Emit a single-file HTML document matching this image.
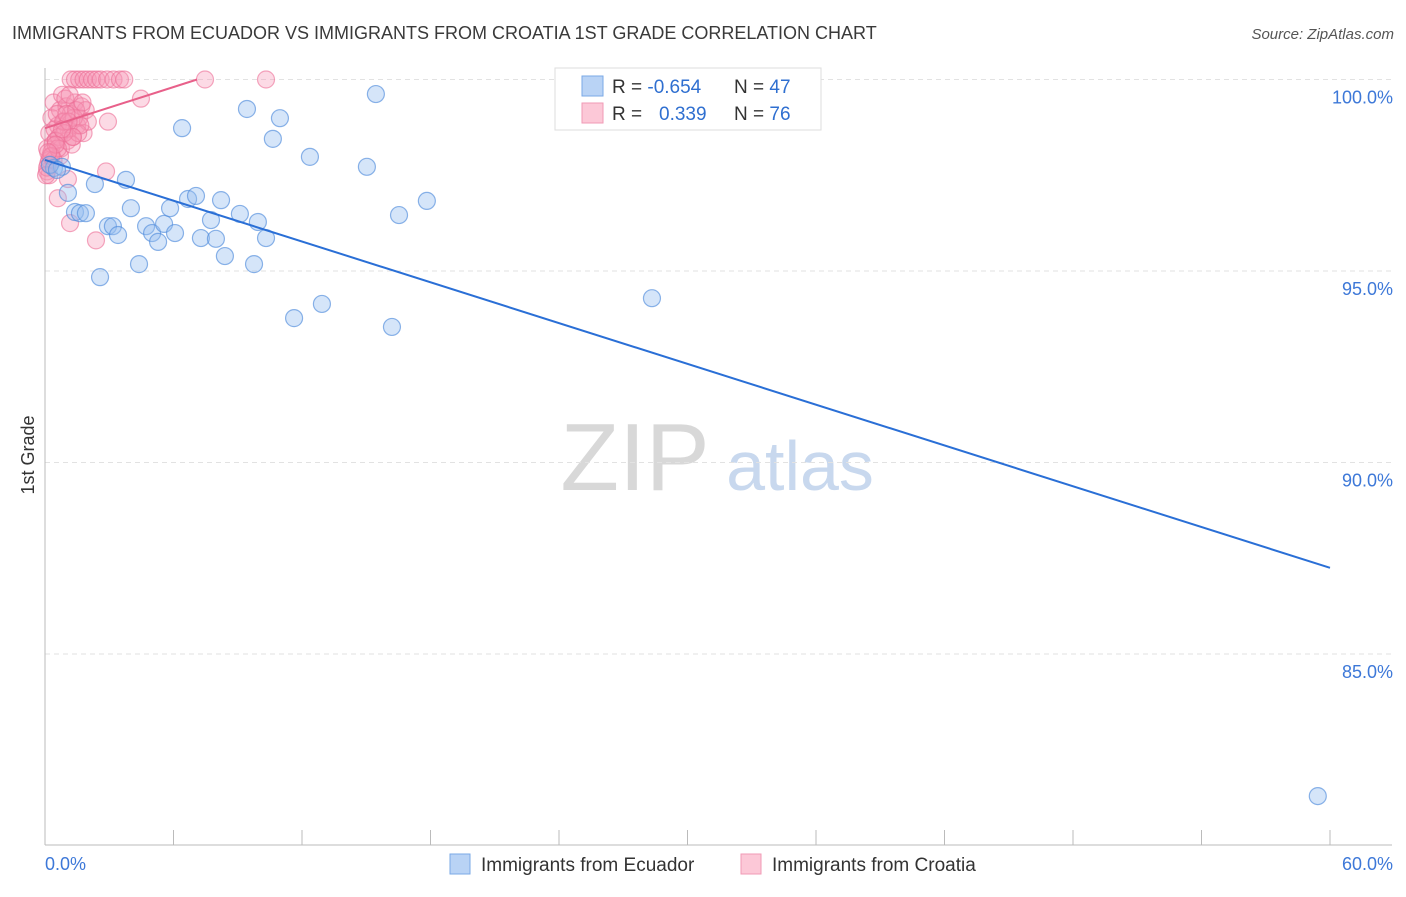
<!DOCTYPE html>
<html><head><meta charset="utf-8"><style>
body{margin:0;background:#fff;font-family:"Liberation Sans",sans-serif}
svg text{font-family:"Liberation Sans",sans-serif}
</style></head><body>
<svg id="chart" width="1406" height="892" viewBox="0 0 1406 892" xmlns="http://www.w3.org/2000/svg">
<text x="12" y="39" font-size="18" fill="#3a3a3a">IMMIGRANTS FROM ECUADOR VS IMMIGRANTS FROM CROATIA 1ST GRADE CORRELATION CHART</text>
<text x="1394" y="39" font-size="15" fill="#555" text-anchor="end" font-style="italic">Source: ZipAtlas.com</text>
<g>
<text x="635" y="490" font-size="96" fill="#d8d8d8" text-anchor="middle" font-family="Liberation Serif">ZIP</text>
<text x="800" y="490" font-size="70" fill="#c8d8ee" text-anchor="middle">atlas</text>
</g>
<g id="grid"></g>
<g id="axes"></g>
<text transform="translate(34,455) rotate(-90)" font-size="18" fill="#333" text-anchor="middle">1st Grade</text>
<g id="marks"></g>
<g>
<rect x="555" y="68" width="266" height="62" fill="#fff" stroke="#ddd"/>
<rect x="582" y="76" width="21" height="20" fill="#b9d3f5" stroke="#7aa8e6"/>
<rect x="582" y="103" width="21" height="20" fill="#fcc8d7" stroke="#f09ab5"/>
<text x="612" y="93" font-size="19" fill="#333">R = <tspan fill="#2f6fd0">-0.654</tspan></text>
<text x="734" y="93" font-size="19" fill="#333">N = <tspan fill="#2f6fd0">47</tspan></text>
<text x="612" y="120" font-size="19" fill="#333">R = <tspan fill="#2f6fd0" x="659">0.339</tspan></text>
<text x="734" y="120" font-size="19" fill="#333">N = <tspan fill="#2f6fd0">76</tspan></text>
</g>
<g>
<rect x="450" y="854" width="20" height="20" fill="#b9d3f5" stroke="#7aa8e6"/>
<text x="481" y="871" font-size="19" fill="#333">Immigrants from Ecuador</text>
<rect x="741" y="854" width="20" height="20" fill="#fcc8d7" stroke="#f09ab5"/>
<text x="772" y="871" font-size="19" fill="#333">Immigrants from Croatia</text>
</g>
</svg>
<script>
const yTicks=[100,95,90,85];
const yTickLabels=["100.0%","95.0%","90.0%","85.0%"];
const xLabels=["0.0%","60.0%"];
const xTickVals=[0,6,12,18,24,30,36,42,48,54,60];
const ecuadorX=[0.42,0.79,1.07,1.40,1.63,1.91,2.33,2.57,2.94,3.17,3.41,3.78,4.01,4.39,4.72,5.00,5.28,5.56,5.84,6.07,6.40,6.68,7.05,7.28,7.75,7.98,8.22,8.40,9.10,9.43,9.76,9.94,10.32,10.64,10.97,11.63,12.37,12.93,15.03,15.45,16.20,16.53,17.83,28.34,59.43,0.23,0.56];
const ecuadorY=[97.69,97.72,97.04,96.54,96.51,96.51,97.27,94.84,96.17,96.17,95.94,97.38,96.64,95.18,96.17,95.99,95.76,96.23,96.64,95.99,98.73,96.88,96.96,95.86,96.33,95.84,96.85,95.39,96.49,99.23,95.18,96.28,95.86,98.45,98.99,93.77,97.98,94.14,97.72,99.62,93.54,96.46,96.83,94.29,81.29,97.77,97.64];
const croatiaX=[7.47,10.32,4.48,2.94,2.85,2.38,1.17,0.6,1.07,1.2,1.4,1.6,1.8,2.0,2.2,2.4,2.6,2.9,3.2,3.5,3.7,0.1,0.2,0.3,0.4,0.5,0.6,0.7,0.8,0.9,1.0,1.1,1.2,1.3,1.4,1.5,1.6,1.7,1.8,1.9,2.0,0.15,0.25,0.35,0.45,0.55,0.65,0.75,0.85,0.95,1.05,1.15,1.25,1.35,1.45,1.55,1.65,1.75,0.1,0.2,0.3,0.5,0.7,0.9,1.1,1.3,0.2,0.4,0.6,0.8,1.0,0.1,0.3,0.5,0.05,0.15];
const croatiaY=[100,100,99.5,98.9,97.6,95.8,96.25,96.9,97.4,100,100,100,100,100,100,100,100,100,100,100,100,98.2,98.6,99.0,99.4,98.4,98.8,99.2,99.6,98.9,99.3,98.7,99.1,98.5,99.4,98.8,99.0,99.3,98.6,99.2,98.9,97.8,98.0,98.3,98.7,99.1,98.5,98.2,98.9,99.5,98.4,99.6,98.3,99.0,99.2,98.6,98.8,99.4,97.6,97.9,98.1,98.4,98.0,98.6,98.9,98.5,97.5,97.9,98.2,98.7,99.1,97.7,98.0,98.3,97.5,98.1];
const ecuadorTrend=[[0,97.9],[60,87.25]];
const croatiaTrend=[[0,98.73],[7.1,100]];
const X=v=>45+v*(1285/60);
const Y=v=>79.5+(100-v)*38.3;
const NS="http://www.w3.org/2000/svg";
function mk(tag,attrs,parent){const e=document.createElementNS(NS,tag);for(const k in attrs)e.setAttribute(k,attrs[k]);parent.appendChild(e);return e;}
const grid=document.getElementById('grid'),axes=document.getElementById('axes'),marks=document.getElementById('marks');
yTicks.forEach((t,i)=>{
 const l=mk('line',{x1:45,x2:1392,y1:Y(t),y2:Y(t),stroke:'#e2e2e2','stroke-dasharray':'5,4'},grid);
 
 
 const tx=mk('text',{x:1393,y:Y(t)+24,'font-size':18,fill:'#3d78d8','text-anchor':'end'},axes);
 tx.textContent=yTickLabels[i];
 
 
});
const ax=mk('line',{x1:45,x2:45,y1:68,y2:845,stroke:'#bbb'},axes);


const bx=mk('line',{x1:45,x2:1392,y1:845,y2:845,stroke:'#bbb'},axes);


xTickVals.forEach(v=>{
 const t=mk('line',{x1:X(v),x2:X(v),y1:830,y2:845,stroke:'#bbb'},axes);
 
 
});
const xl0=mk('text',{x:45,y:870,'font-size':18,fill:'#3d78d8'},axes);xl0.textContent=xLabels[0];


const xl1=mk('text',{x:1393,y:870,'font-size':18,fill:'#3d78d8','text-anchor':'end'},axes);xl1.textContent=xLabels[1];


croatiaX.forEach((x,i)=>{
 const c=mk('circle',{cx:X(x),cy:Y(croatiaY[i]),r:8.5,fill:'rgba(246,150,180,0.35)',stroke:'rgba(236,110,150,0.6)','stroke-width':1.2},marks);
 
 
});
ecuadorX.forEach((x,i)=>{
 const c=mk('circle',{cx:X(x),cy:Y(ecuadorY[i]),r:8.5,fill:'rgba(150,190,240,0.4)',stroke:'rgba(80,140,220,0.65)','stroke-width':1.2},marks);
 
 
});
const t1=mk('line',{x1:X(ecuadorTrend[0][0]),y1:Y(ecuadorTrend[0][1]),x2:X(ecuadorTrend[1][0]),y2:Y(ecuadorTrend[1][1]),stroke:'#2a6fd6','stroke-width':2},marks);


const t2=mk('line',{x1:X(croatiaTrend[0][0]),y1:Y(croatiaTrend[0][1]),x2:X(croatiaTrend[1][0]),y2:Y(croatiaTrend[1][1]),stroke:'#e8608a','stroke-width':2},marks);


</script>
</body></html>
